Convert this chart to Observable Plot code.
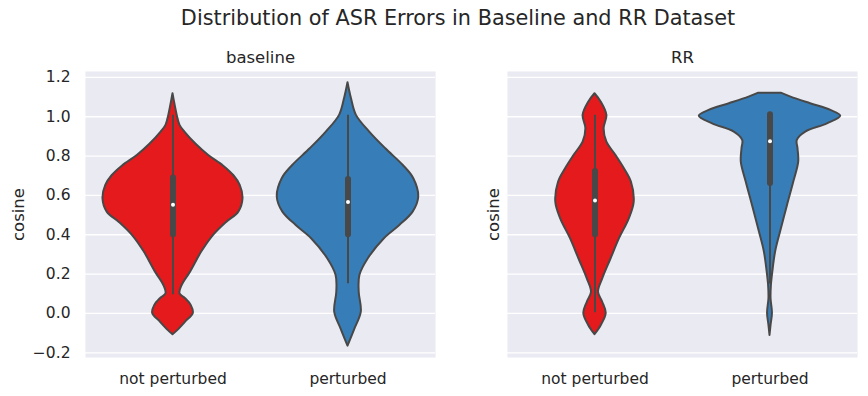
<!DOCTYPE html>
<html><head><meta charset="utf-8">
<script src="https://cdn.jsdelivr.net/npm/d3@7"></script>
<script src="https://cdn.jsdelivr.net/npm/@observablehq/plot@0.6"></script>
<style>
body{margin:0;background:#fff;}
#wrap{position:relative;width:868px;height:396px;font-family:"DejaVu Sans",sans-serif;color:#262626;overflow:hidden;background:#fff}
#title{position:absolute;top:6px;left:458px;transform:translateX(-50%);font-size:20.8px;line-height:24px;white-space:nowrap}
.panel{position:absolute;top:40px}
</style></head><body>
<div id="wrap"><div id="title">Distribution of ASR Errors in Baseline and RR Dataset</div></div>
<script>
// ---- data ----
const panels = ["baseline", "RR"];
const categories = ["not perturbed", "perturbed"];
const yTicks = [-0.2, 0, 0.2, 0.4, 0.6, 0.8, 1.0, 1.2];

// violin density profiles: [cosine value, relative density]
const baselineNotPerturbed = [[1.117,0],[1.06,0.03],[1.007,0.06],[0.956,0.10],[0.922,0.17],[0.86,0.33],[0.803,0.51],[0.75,0.72],[0.70,0.87],[0.651,0.96],[0.583,1.0],[0.515,0.94],[0.464,0.77],[0.397,0.58],[0.312,0.41],[0.21,0.25],[0.142,0.13],[0.10,0.10],[0.075,0.18],[0.041,0.26],[0.0,0.29],[-0.044,0.18],[-0.086,0.07],[-0.108,0]];
const baselinePerturbed = [[1.173,0],[1.091,0.05],[1.007,0.12],[0.922,0.31],[0.837,0.54],[0.752,0.79],[0.685,0.94],[0.591,1.01],[0.515,0.93],[0.447,0.74],[0.38,0.52],[0.278,0.29],[0.193,0.17],[0.108,0.16],[0.007,0.19],[-0.078,0.10],[-0.166,0]];
const rrNotPerturbed = [[1.117,0],[1.074,0.09],[1.007,0.17],[0.939,0.13],[0.871,0.17],[0.803,0.30],[0.736,0.42],[0.668,0.52],[0.566,0.56],[0.481,0.49],[0.38,0.35],[0.278,0.23],[0.176,0.11],[0.108,0.05],[0.057,0.11],[0.0,0.16],[-0.061,0.09],[-0.108,0]];
const rrPerturbed = [[1.12,0.16],[1.10,0.30],[1.066,0.58],[1.032,0.87],[1.003,1.01],[0.964,0.82],[0.922,0.51],[0.88,0.39],[0.837,0.40],[0.769,0.41],[0.668,0.34],[0.549,0.25],[0.413,0.15],[0.312,0.08],[0.21,0.04],[0.142,0.02],[0.075,0.015],[0.0,0.035],[-0.061,0.015],[-0.112,0]];

// inner box stats: [whisker low, q1, median, q3, whisker high]
const baselineNotPerturbedBox = [0.095, 0.40, 0.553, 0.688, 1.007];
const baselinePerturbedBox = [0.151, 0.40, 0.566, 0.681, 1.007];
const rrNotPerturbedBox = [0.004, 0.40, 0.574, 0.722, 1.007];
const rrPerturbedBox = [0.15, 0.66, 0.876, 1.01, 1.0];

// ---- drawing ----
const fills = ["#e41a1c", "#377eb8"];
const outline = "#484848";
const HALF = 0.4;

function violinMarks(profiles, boxes) {
  const marks = [];
  profiles.forEach((prof, i) => {
    const rows = prof.map(([v, d]) => ({cat: i, v, d}));
    marks.push(Plot.areaX(rows, {
      y: "v", x1: r => r.cat - r.d * HALF, x2: r => r.cat + r.d * HALF,
      fill: fills[i], stroke: outline, strokeWidth: 2, curve: "catmull-rom"
    }));
  });
  const boxRows = boxes.map((b, i) => ({cat: i, lo: b[0], q1: b[1], med: b[2], q3: b[3], hi: b[4]}));
  marks.push(Plot.ruleX(boxRows, {x: "cat", y1: "lo", y2: "hi", stroke: outline, strokeWidth: 2}));
  marks.push(Plot.ruleX(boxRows, {x: "cat", y1: "q1", y2: "q3", stroke: outline, strokeWidth: 6, strokeLinecap: "round"}));
  marks.push(Plot.dot(boxRows, {x: "cat", y: "med", r: 2, fill: "white", stroke: null}));
  return marks;
}

function panel(name, profiles, boxes, showTicks, width, ml, mr, labelDx) {
  return Plot.plot({
    width, height: 356, marginLeft: ml, marginRight: mr, marginTop: 31, marginBottom: 39,
    style: {fontFamily: "DejaVu Sans", fontSize: "15.5px", color: "#262626", background: "transparent", overflow: "visible"},
    x: {domain: [-0.5, 1.5], ticks: [0, 1], tickFormat: i => categories[i], tickSize: 0, tickPadding: 15, label: null},
    y: showTicks
      ? {domain: [-0.224, 1.23], ticks: yTicks, tickFormat: d3.format(".1f"), tickSize: 0, tickPadding: 15, label: null}
      : {domain: [-0.224, 1.23], axis: null},
    marks: [
      Plot.frame({fill: "#eaeaf2", stroke: null}),
      Plot.gridY(yTicks, {stroke: "white", strokeOpacity: 1, strokeWidth: 1.3}),
      ...violinMarks(profiles, boxes),
      Plot.text([name], {frameAnchor: "top", dy: -14, fontSize: 16.5, lineAnchor: "middle", textAnchor: "middle"}),
      Plot.text(["cosine"], {frameAnchor: "left", dx: labelDx, rotate: -90, fontSize: 16.5, lineAnchor: "middle", textAnchor: "middle"})
    ]
  });
}

const wrap = document.getElementById("wrap");
const left = panel(panels[0], [baselineNotPerturbed, baselinePerturbed], [baselineNotPerturbedBox, baselinePerturbedBox], true, 440, 85, 5, -67);
left.classList.add("panel"); left.style.left = "0px";
const right = panel(panels[1], [rrNotPerturbed, rrPerturbed], [rrNotPerturbedBox, rrPerturbedBox], false, 428, 67, 11, -14);
right.classList.add("panel"); right.style.left = "440px";
wrap.appendChild(left);
wrap.appendChild(right);
</script>
</body></html>
